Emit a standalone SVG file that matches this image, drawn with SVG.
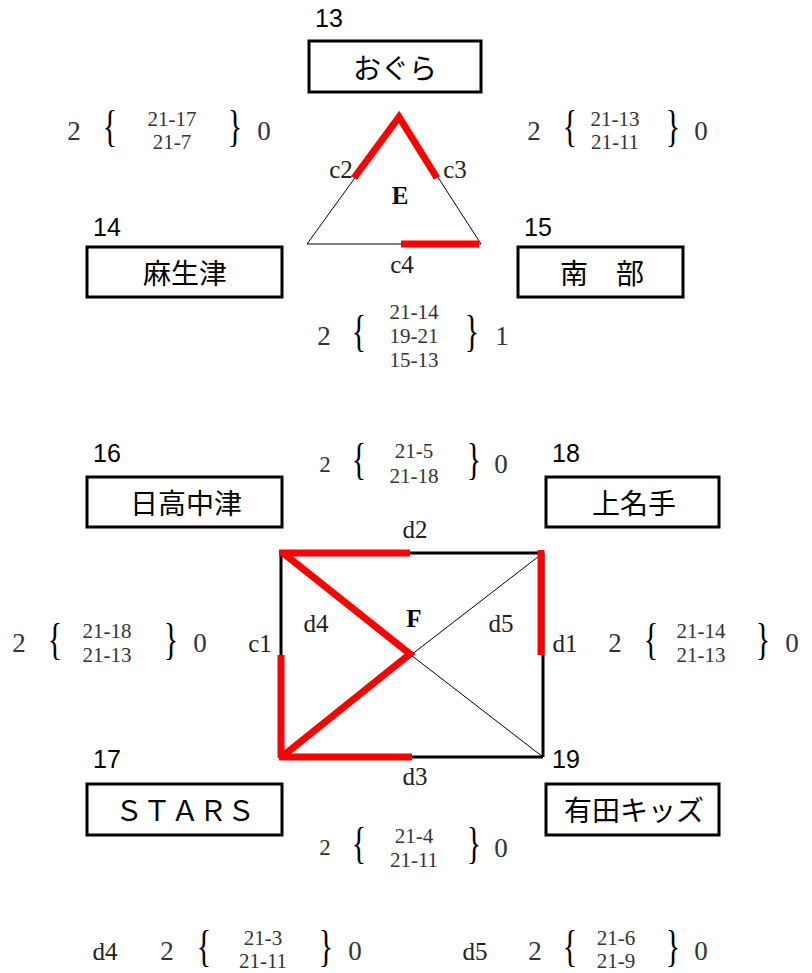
<svg xmlns="http://www.w3.org/2000/svg" width="812" height="973" viewBox="0 0 812 973">
<style>
.num{font-family:"Liberation Sans",Arial,sans-serif;font-size:25px;fill:#000}
.box{fill:#fff;stroke:#000;stroke-width:3}
.bt{font-family:"Noto Sans CJK JP",sans-serif;font-size:28px;fill:#000;text-anchor:middle;dominant-baseline:central}
.lbl{font-family:"Liberation Serif","Times New Roman",serif;font-size:25px;fill:#222;text-anchor:middle}
.ef{font-family:"Liberation Serif","Times New Roman",serif;font-size:25px;font-weight:bold;fill:#000;text-anchor:middle}
.sc{font-family:"Liberation Serif","Times New Roman",serif;font-size:21px;fill:#333;text-anchor:middle}
.big{font-family:"Liberation Serif","Times New Roman",serif;font-size:27px;fill:#333;text-anchor:middle}
.br{font-family:"Liberation Serif","Times New Roman",serif;font-size:30px;fill:#000;text-anchor:middle}
.thin{stroke:#000;stroke-width:1;fill:none}
.blk{stroke:#000;stroke-width:3;fill:none}
.red{stroke:#f00;stroke-width:7;fill:none;stroke-linecap:butt;stroke-linejoin:miter}
</style>

<g id="connectors">
  <!-- E triangle -->
  <line class="thin" x1="307" y1="244" x2="399" y2="117"/>
  <line class="thin" x1="399" y1="117" x2="481" y2="244"/>
  <line class="thin" x1="307" y1="244" x2="481" y2="244"/>
  <polyline class="red" points="354,178 399,117 437,178"/>
  <line class="red" x1="401" y1="244" x2="479" y2="244"/>
  <!-- F rectangle -->
  <line class="blk" x1="281" y1="553" x2="543" y2="553"/>
  <line class="blk" x1="281" y1="757" x2="543" y2="757"/>
  <line class="blk" x1="281" y1="553" x2="281" y2="757"/>
  <line class="blk" x1="543" y1="553" x2="543" y2="757"/>
  <line class="thin" x1="543" y1="553" x2="411" y2="655"/>
  <line class="thin" x1="411" y1="655" x2="543" y2="757"/>
  <line class="red" x1="279" y1="553" x2="410" y2="553"/>
  <line class="red" x1="541" y1="550" x2="541" y2="655"/>
  <line class="red" x1="281" y1="655" x2="281" y2="758"/>
  <line class="red" x1="279" y1="757" x2="412" y2="757"/>
  <polyline class="red" points="283,553 410,654 284,755"/>
</g>

<g id="node13">
  <text class="num" x="315" y="27">13</text>
  <rect class="box" x="309" y="41" width="172" height="51"/>
  <text class="bt" x="395" y="67">おぐら</text>
</g>
<g id="node14">
  <text class="num" x="93" y="236">14</text>
  <rect class="box" x="87" y="247" width="195" height="50"/>
  <text class="bt" x="185" y="272">麻生津</text>
</g>
<g id="node15">
  <text class="num" x="524" y="236">15</text>
  <rect class="box" x="518" y="247" width="165" height="50"/>
  <text class="bt" x="602" y="272">南　部</text>
</g>
<g id="node16">
  <text class="num" x="93" y="462">16</text>
  <rect class="box" x="87" y="477" width="195" height="50"/>
  <text class="bt" x="186" y="502">日高中津</text>
</g>
<g id="node18">
  <text class="num" x="552" y="462">18</text>
  <rect class="box" x="546" y="477" width="173" height="50"/>
  <text class="bt" x="634" y="502">上名手</text>
</g>
<g id="node17">
  <text class="num" x="93" y="768">17</text>
  <rect class="box" x="87" y="784" width="195" height="51"/>
  <text class="bt" x="185" y="809">ＳＴＡＲＳ</text>
</g>
<g id="node19">
  <text class="num" x="552" y="768">19</text>
  <rect class="box" x="546" y="784" width="173" height="51"/>
  <text class="bt" x="634" y="809">有田キッズ</text>
</g>

<g id="labels">
  <text class="lbl" x="341" y="178">c2</text>
  <text class="lbl" x="455" y="178">c3</text>
  <text class="ef" x="400" y="204">E</text>
  <text class="lbl" x="402" y="273">c4</text>
  <text class="lbl" x="415" y="538">d2</text>
  <text class="lbl" x="316" y="632">d4</text>
  <text class="ef" x="414" y="627">F</text>
  <text class="lbl" x="501" y="632">d5</text>
  <text class="lbl" x="260" y="652">c1</text>
  <text class="lbl" x="565" y="652">d1</text>
  <text class="lbl" x="415" y="785">d3</text>
  <text class="lbl" x="105" y="960">d4</text>
  <text class="lbl" x="475" y="960">d5</text>
</g>

<g id="scores">
  <!-- E left -->
  <g>
    <text class="big" x="74" y="140">2</text>
    <text class="br" transform="translate(110,141) scale(1,1.5)">{</text>
    <text class="sc" x="172" y="126">21-17</text>
    <text class="sc" x="172" y="149">21-7</text>
    <text class="br" transform="translate(235,141) scale(1,1.5)">}</text>
    <text class="big" x="264" y="140">0</text>
  </g>
  <!-- E right -->
  <g>
    <text class="big" x="534" y="140">2</text>
    <text class="br" transform="translate(570,141) scale(1,1.5)">{</text>
    <text class="sc" x="615" y="126">21-13</text>
    <text class="sc" x="615" y="149">21-11</text>
    <text class="br" transform="translate(673,141) scale(1,1.5)">}</text>
    <text class="big" x="701" y="140">0</text>
  </g>
  <!-- E bottom -->
  <g>
    <text class="big" x="324" y="345">2</text>
    <text class="br" transform="translate(359,346) scale(1,1.5)">{</text>
    <text class="sc" x="414" y="319">21-14</text>
    <text class="sc" x="414" y="343">19-21</text>
    <text class="sc" x="414" y="367">15-13</text>
    <text class="br" transform="translate(472,346) scale(1,1.5)">}</text>
    <text class="big" x="502" y="345">1</text>
  </g>
  <!-- F top -->
  <g>
    <text class="big" x="325" y="472" style="font-size:23px">2</text>
    <text class="br" transform="translate(359,474) scale(1,1.5)">{</text>
    <text class="sc" x="414" y="458">21-5</text>
    <text class="sc" x="414" y="483">21-18</text>
    <text class="br" transform="translate(474,474) scale(1,1.5)">}</text>
    <text class="big" x="501" y="473">0</text>
  </g>
  <!-- F left -->
  <g>
    <text class="big" x="19" y="652">2</text>
    <text class="br" transform="translate(55,654) scale(1,1.5)">{</text>
    <text class="sc" x="107" y="638">21-18</text>
    <text class="sc" x="107" y="662">21-13</text>
    <text class="br" transform="translate(171,654) scale(1,1.5)">}</text>
    <text class="big" x="200" y="652">0</text>
  </g>
  <!-- F right -->
  <g>
    <text class="big" x="615" y="652">2</text>
    <text class="br" transform="translate(651,654) scale(1,1.5)">{</text>
    <text class="sc" x="701" y="638">21-14</text>
    <text class="sc" x="701" y="662">21-13</text>
    <text class="br" transform="translate(763,654) scale(1,1.5)">}</text>
    <text class="big" x="792" y="652">0</text>
  </g>
  <!-- F bottom -->
  <g>
    <text class="big" x="325" y="855" style="font-size:23px">2</text>
    <text class="br" transform="translate(359,858) scale(1,1.5)">{</text>
    <text class="sc" x="414" y="843">21-4</text>
    <text class="sc" x="414" y="867">21-11</text>
    <text class="br" transform="translate(474,858) scale(1,1.5)">}</text>
    <text class="big" x="501" y="857">0</text>
  </g>
  <!-- d4 -->
  <g>
    <text class="big" x="167" y="960">2</text>
    <text class="br" transform="translate(204,961) scale(1,1.5)">{</text>
    <text class="sc" x="263" y="945">21-3</text>
    <text class="sc" x="263" y="968">21-11</text>
    <text class="br" transform="translate(326,961) scale(1,1.5)">}</text>
    <text class="big" x="355" y="960">0</text>
  </g>
  <!-- d5 -->
  <g>
    <text class="big" x="535" y="960">2</text>
    <text class="br" transform="translate(570,961) scale(1,1.5)">{</text>
    <text class="sc" x="616" y="945">21-6</text>
    <text class="sc" x="616" y="968">21-9</text>
    <text class="br" transform="translate(673,961) scale(1,1.5)">}</text>
    <text class="big" x="701" y="960">0</text>
  </g>
</g>
</svg>
